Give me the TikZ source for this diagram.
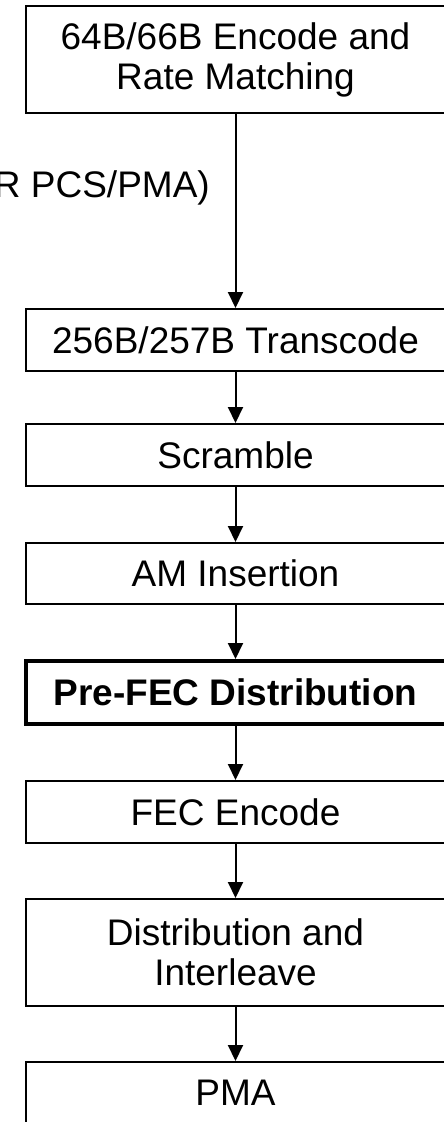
\documentclass[tikz,border=0pt]{standalone}
\usepackage{fontspec}
\setmainfont{Liberation Sans}
\usetikzlibrary{arrows.meta}
\begin{document}
\begin{tikzpicture}[x=1pt,y=1pt,
  box/.style={draw=black, line width=2pt, rectangle, minimum width=424pt, inner sep=0pt,
    align=center, font=\fontsize{37}{40}\selectfont},
  thickbox/.style={box, line width=4.4pt, font=\fontsize{37}{40}\selectfont\bfseries},
  flow/.style={line width=2pt, -{Triangle[length=16pt,width=15pt]}}]
\useasboundingbox (0,0) rectangle (444,-1122);
\node[box, minimum height=107pt] (enc) at (238,-59.5) {\hspace*{-5pt}64B/66B Encode and\\\hspace*{-5pt}Rate Matching};
\node[box, minimum height=62pt] (trans) at (238,-340) {\hspace*{-5pt}256B/257B Transcode};
\node[box, minimum height=62pt] (scr) at (238,-455) {\hspace*{-5pt}Scramble};
\node[box, minimum height=61pt] (am) at (238,-573.5) {\hspace*{-5pt}AM Insertion};
\node[thickbox, minimum height=63pt] (pre) at (238,-692.7) {\hspace*{-5pt}Pre-FEC Distribution};
\node[box, minimum height=62pt] (fec) at (238,-812) {\hspace*{-5pt}FEC Encode};
\node[box, minimum height=107pt] (dist) at (238,-952.5) {\hspace*{-5pt}Distribution and\\\hspace*{-5pt}Interleave};
\node[box, minimum height=62pt] (pma) at (238,-1093) {\hspace*{-5pt}PMA};
\node[anchor=base east, inner sep=0pt, font=\fontsize{37}{40}\selectfont] (lbl) at (210,-197) {R PCS/PMA)};
\coordinate (ax) at (235.5,0);
\draw[flow] (enc.south -| ax) -- (trans.north -| ax);
\draw[flow] (trans.south -| ax) -- (scr.north -| ax);
\draw[flow] (scr.south -| ax) -- (am.north -| ax);
\draw[flow] (am.south -| ax) -- (pre.north -| ax);
\draw[flow] (pre.south -| ax) -- (fec.north -| ax);
\draw[flow] (fec.south -| ax) -- (dist.north -| ax);
\draw[flow] (dist.south -| ax) -- (pma.north -| ax);
\end{tikzpicture}
\end{document}
